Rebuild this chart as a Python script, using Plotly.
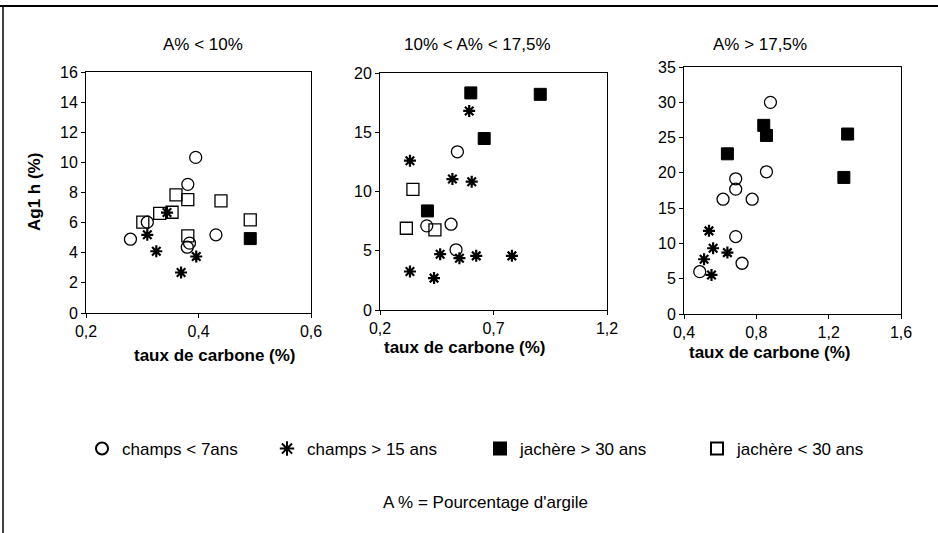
import plotly.graph_objects as go

# ---------------- data ----------------
panel_titles = ["A% < 10%", "10% < A% < 17,5%", "A% > 17,5%"]
series_names = ["champs < 7ans", "champs > 15 ans", "jachère > 30 ans", "jachère < 30 ans"]

# Panel 1 (A% < 10%)
p1_c7_x = [0.279, 0.309, 0.381, 0.395, 0.384, 0.380, 0.431]
p1_c7_y = [4.9, 6.03, 8.54, 10.33, 4.64, 4.37, 5.19]
p1_c15_x = [0.309, 0.325, 0.344, 0.369, 0.396]
p1_c15_y = [5.19, 4.1, 6.67, 2.69, 3.75]
p1_j30p_x = [0.492]
p1_j30p_y = [4.94]
p1_j30m_x = [0.301, 0.331, 0.353, 0.360, 0.381, 0.381, 0.440, 0.492]
p1_j30m_y = [6.03, 6.62, 6.69, 7.84, 7.53, 5.12, 7.44, 6.18]

# Panel 2 (10% < A% < 17,5%)
p2_c7_x = [0.541, 0.406, 0.513, 0.535]
p2_c7_y = [13.35, 7.1, 7.24, 5.08]
p2_c15_x = [0.593, 0.332, 0.519, 0.604, 0.465, 0.550, 0.624, 0.781, 0.332, 0.438]
p2_c15_y = [16.8, 12.6, 11.05, 10.83, 4.71, 4.37, 4.57, 4.57, 3.25, 2.69]
p2_j30p_x = [0.600, 0.906, 0.659, 0.409]
p2_j30p_y = [18.32, 18.2, 14.47, 8.36]
p2_j30m_x = [0.345, 0.316, 0.442]
p2_j30m_y = [10.18, 6.9, 6.76]

# Panel 3 (A% > 17,5%)
p3_c7_x = [0.878, 0.856, 0.686, 0.686, 0.616, 0.777, 0.686, 0.721, 0.487]
p3_c7_y = [29.99, 20.15, 19.16, 17.69, 16.27, 16.27, 10.97, 7.19, 6.0]
p3_c15_x = [0.538, 0.561, 0.511, 0.640, 0.552]
p3_c15_y = [11.78, 9.32, 7.76, 8.7, 5.53]
p3_j30p_x = [0.640, 0.841, 0.856, 1.305, 1.284]
p3_j30p_y = [22.7, 26.73, 25.3, 25.5, 19.35]
p3_j30m_x = []
p3_j30m_y = []

x_ranges = [[0.2, 0.6], [0.2, 1.2], [0.4, 1.6]]
x_dticks = [0.2, 0.5, 0.4]
y_ranges = [[0, 16], [0, 20], [0, 35]]
y_dticks = [2, 5, 5]

panels = [
    [(p1_c7_x, p1_c7_y), (p1_c15_x, p1_c15_y), (p1_j30p_x, p1_j30p_y), (p1_j30m_x, p1_j30m_y)],
    [(p2_c7_x, p2_c7_y), (p2_c15_x, p2_c15_y), (p2_j30p_x, p2_j30p_y), (p2_j30m_x, p2_j30m_y)],
    [(p3_c7_x, p3_c7_y), (p3_c15_x, p3_c15_y), (p3_j30p_x, p3_j30p_y), (p3_j30m_x, p3_j30m_y)],
]

# ---------------- styling ----------------
W, H = 938, 533
FONT = "Liberation Sans, Arial, sans-serif"
markers = [
    dict(symbol="circle-open", size=12, color="black", line=dict(width=1.3, color="black")),
    dict(symbol="asterisk-open", size=10, color="black", line=dict(width=2.2, color="black")),
    dict(symbol="square", size=12, color="black", line=dict(width=1, color="black")),
    dict(symbol="square-open", size=12, color="black", line=dict(width=1.3, color="black")),
]
legend_ids = ["legend", "legend2", "legend3", "legend4"]
legend_text_start = [122, 307, 520, 737]

# pixel boxes for panels: (x0, x1, ytop, ybottom)
boxes = [(86, 311, 72, 313), (380, 607, 73, 310), (684, 901, 67, 314)]

fig = go.Figure()
for i, series in enumerate(panels):
    ax = "" if i == 0 else str(i + 1)
    for j, (xs, ys) in enumerate(series):
        fig.add_trace(go.Scatter(
            x=xs, y=ys, mode="markers", marker=markers[j],
            name=series_names[j], showlegend=(i == 0), legend=legend_ids[j],
            xaxis="x" + ax, yaxis="y" + ax,
        ))

layout_axes = {}
for i, (x0, x1, yt, yb) in enumerate(boxes):
    ax = "" if i == 0 else str(i + 1)
    common = dict(showline=True, linecolor="black", linewidth=1, mirror=True,
                  ticks="outside", ticklen=4, tickcolor="black", showgrid=False,
                  zeroline=False, automargin=False,
                  tickfont=dict(family=FONT, size=16, color="black"))
    layout_axes["xaxis" + ax] = dict(domain=[x0 / W, x1 / W], range=x_ranges[i], dtick=x_dticks[i],
                                     tick0=x_ranges[i][0], anchor="y" + ax, tickformat=".1f", **common)
    layout_axes["yaxis" + ax] = dict(domain=[1 - yb / H, 1 - yt / H], range=y_ranges[i], dtick=y_dticks[i],
                                     anchor="x" + ax, **common)

annotations = []
title_pos = [(203, 44), (478, 44), (760, 44)]
for t, (px, py) in zip(panel_titles, title_pos):
    annotations.append(dict(text=t, x=px / W, y=1 - py / H, xref="paper", yref="paper",
                            xanchor="center", yanchor="middle",
                            showarrow=False, font=dict(family=FONT, size=17, color="black")))
xt_pos = [(215, 355), (465, 347), (770, 352)]
for (px, py) in xt_pos:
    annotations.append(dict(text="<b>taux de carbone (%)</b>", x=px / W, y=1 - py / H,
                            xref="paper", yref="paper", showarrow=False,
                            xanchor="center", yanchor="middle",
                            font=dict(family=FONT, size=17, color="black")))
annotations.append(dict(text="<b>Ag1 h (%)</b>", x=35 / W, y=1 - 192 / H, xref="paper", yref="paper",
                        showarrow=False, textangle=-90, xanchor="center", yanchor="middle",
                        font=dict(family=FONT, size=17, color="black")))
annotations.append(dict(text="A % = Pourcentage d'argile", x=485 / W, y=1 - 502 / H,
                        xref="paper", yref="paper", showarrow=False,
                        xanchor="center", yanchor="middle",
                        font=dict(family=FONT, size=17, color="black")))

# outer frame: top and left edges of the scanned figure border
shapes = [
    dict(type="line", xref="paper", yref="paper", x0=0, x1=1, y0=1 - 6 / H, y1=1 - 6 / H,
         line=dict(color="black", width=2), layer="above"),
    dict(type="line", xref="paper", yref="paper", x0=3 / W, x1=3 / W, y0=0, y1=1 - 6 / H,
         line=dict(color="black", width=1.5), layer="above"),
]

legends = {}
for lid, ts in zip(legend_ids, legend_text_start):
    legends[lid] = dict(x=(ts - 40) / W, xanchor="left", y=1 - 449 / H, yanchor="middle",
                        orientation="h", font=dict(family=FONT, size=17, color="black"),
                        bgcolor="rgba(0,0,0,0)", borderwidth=0, itemsizing="constant")

fig.update_layout(
    width=W, height=H,
    margin=dict(l=0, r=0, t=0, b=0, pad=0, autoexpand=False),
    paper_bgcolor="white", plot_bgcolor="white",
    separators=", ",
    font=dict(family=FONT, color="black"),
    annotations=annotations, shapes=shapes,
    **legends,
    **layout_axes,
)

fig.write_html("out.html", config={"displayModeBar": False},
               post_script="document.body.style.margin='0';document.body.style.overflow='hidden';")
